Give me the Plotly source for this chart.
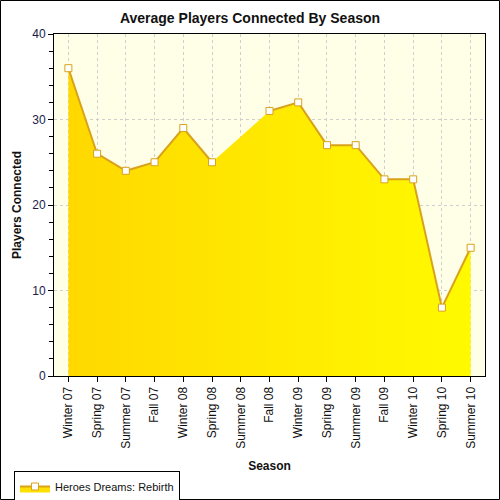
import plotly.graph_objects as go

seasons = ["Winter 07", "Spring 07", "Summer 07", "Fall 07", "Winter 08", "Spring 08",
           "Summer 08", "Fall 08", "Winter 09", "Spring 09", "Summer 09", "Fall 09",
           "Winter 10", "Spring 10", "Summer 10"]
players = [36, 26, 24, 25, 29, 25, None, 31, 32, 27, 27, 23, 23, 8, 15]
series_name = "Heroes Dreams: Rebirth"

LINE = "#D9A21B"
FONT = "Liberation Sans, Arial, sans-serif"

fig = go.Figure()
# filled area (gap bridged)
fig.add_trace(go.Scatter(
    x=seasons, y=players, mode="lines", connectgaps=True,
    fill="tozeroy", line=dict(width=0, color=LINE),
    fillgradient=dict(type="horizontal", colorscale=[[0, "#FFD800"], [1, "#FFFA00"]]),
    showlegend=False, hoverinfo="skip"))
# line + markers (gap kept)
fig.add_trace(go.Scatter(
    x=seasons, y=players, mode="lines+markers", connectgaps=False,
    line=dict(width=2, color=LINE),
    marker=dict(symbol="square", size=7, color="white", line=dict(width=1, color=LINE)),
    showlegend=False))
# legend entry
fig.add_trace(go.Scatter(
    x=[None], y=[None], mode="lines+markers", name=series_name,
    fill="toself", fillcolor="#FFE000",
    line=dict(width=2, color=LINE),
    marker=dict(symbol="square", size=7, color="white", line=dict(width=1, color=LINE))))

L, R, T, B = 54, 15, 34, 124
W, H = 500 - L - R, 500 - T - B

fig.update_layout(
    width=500, height=500,
    margin=dict(l=L, r=R, t=T, b=B, autoexpand=False),
    paper_bgcolor="white", plot_bgcolor="#FFFEE6",
    font=dict(family=FONT, size=12, color="#111"),
    title=dict(text="<b>Average Players Connected By Season</b>", x=0.5, xref="container",
               y=1 - 18 / 500, yanchor="middle", font=dict(size=14, color="#111")),
    xaxis=dict(
        type="category", categoryorder="array", categoryarray=seasons,
        range=[-0.5, 14.5], tickangle=-90, automargin=False,
        showline=True, linecolor="black", linewidth=1, mirror=True,
        ticks="outside", ticklen=5, tickcolor="black",
        showgrid=True, gridcolor="#CFCFCF", griddash="dot", gridwidth=1,
        title=dict(text="<b>Season</b>", font=dict(size=12), standoff=13),
        tickfont=dict(size=12)),
    yaxis=dict(
        range=[0, 40], dtick=10, automargin=False,
        showline=True, linecolor="black", linewidth=1, mirror=True,
        ticks="outside", ticklen=5, tickcolor="black",
        minor=dict(dtick=2, ticks="outside", ticklen=4, tickcolor="black", showgrid=False),
        showgrid=True, gridcolor="#CFCFCF", griddash="dot", gridwidth=1,
        zeroline=False,
        title=dict(text="<b>Players Connected</b>", font=dict(size=12), standoff=8),
        tickfont=dict(size=12, color="#1a1a4a")),
    legend=dict(x=(14 - L) / W, y=(376 - 471) / H, xanchor="left", yanchor="top",
                bordercolor="black", borderwidth=1, bgcolor="white",
                font=dict(size=11), itemwidth=30, tracegroupgap=0),
    shapes=[dict(type="rect", xref="paper", yref="paper",
                 x0=-(L - 0.5) / W, x1=1 + (R - 0.5) / W,
                 y0=-(B - 0.5) / H, y1=1 + (T - 0.5) / H,
                 line=dict(color="black", width=1), layer="above")],
)

fig.write_html("out.html")
